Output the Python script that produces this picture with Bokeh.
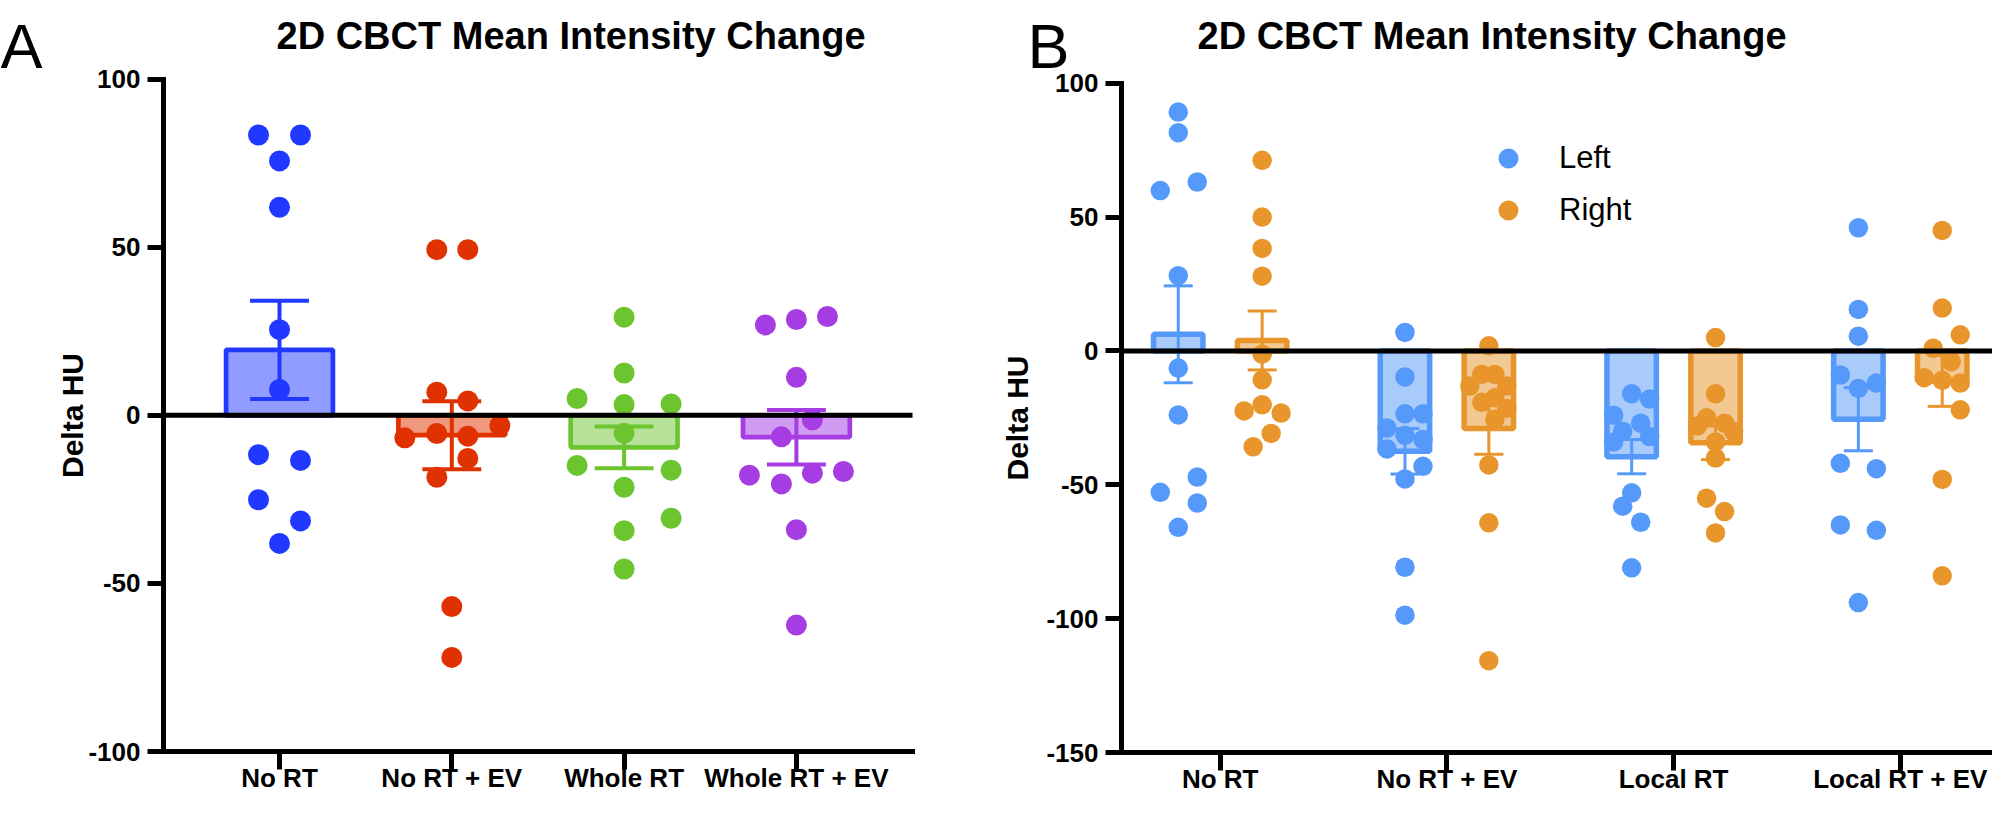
from bokeh.plotting import figure
from bokeh.models import Range1d, Label, Legend, LegendItem, FixedTicker
from bokeh.layouts import row
from bokeh.embed import file_html
from bokeh.resources import INLINE

FONT = "Liberation Sans"

# ---------------- data: panel A ----------------
a_groups = ["No RT", "No RT + EV", "Whole RT", "Whole RT + EV"]
a_no_rt = [83.4, 83.4, 75.7, 61.9, 25.5, 7.7, -11.7, -13.4, -25.1, -31.4, -38.1]
a_no_rt_ev = [49.3, 49.3, 6.9, 4.3, -3.0, -6.7, -5.4, -6.2, -12.8, -18.4, -56.9, -72.0]
a_whole_rt = [29.2, 12.6, 5.0, 3.2, 3.4, -5.3, -14.9, -16.3, -21.4, -30.6, -34.3, -45.7]
a_whole_rt_ev = [26.9, 28.5, 29.4, 11.3, -1.3, -6.4, -17.8, -20.4, -17.2, -16.7, -34.0, -62.4]
a_mean = [19.5, -5.9, -9.5, -6.5]
a_sem = [14.6, 10.1, 6.2, 8.1]
a_ylim = (-100, 100)
a_yticks = [-100, -50, 0, 50, 100]

# ---------------- data: panel B ----------------
b_groups = ["No RT", "No RT + EV", "Local RT", "Local RT + EV"]
b_left_no_rt = [89.2, 81.5, 59.9, 63.1, 28.1, -6.4, -23.9, -47.1, -52.8, -56.8, -65.9]
b_left_no_rt_ev = [6.9, -9.7, -23.5, -23.5, -28.8, -31.5, -33.1, -36.6, -43.1, -47.8, -80.8, -98.7]
b_left_local_rt = [-16, -18, -24, -27, -30, -32, -34, -53, -58, -64, -81]
b_left_local_rt_ev = [46, 15.5, 5.5, -9, -12, -14, -42, -44, -65, -67, -94]
b_right_no_rt = [71.2, 50.0, 38.3, 27.9, -1.2, -10.8, -20.1, -22.4, -23.2, -30.8, -35.8]
b_right_no_rt_ev = [1.9, -8.8, -8.8, -13.1, -13.1, -17.5, -19.2, -21.5, -25.5, -42.6, -64.2, -115.7]
b_right_local_rt = [5, -16, -25, -27, -28, -30, -34, -40, -55, -60, -68]
b_right_local_rt_ev = [45, 16, 6, 1, -4, -10, -11, -12, -22, -48, -84]
b_left_mean = [6.2, -37.5, -39.5, -25.5]
b_left_sem = [18.1, 8.5, 6.4, 11.8]
b_right_mean = [3.9, -29.0, -34.3, -11.2]
b_right_sem = [11.0, 9.6, 6.3, 9.5]
b_series = ["Left", "Right"]
b_ylim = (-150, 100)
b_yticks = [-150, -100, -50, 0, 50, 100]

TITLE = "2D CBCT Mean Intensity Change"
PANEL_LETTERS = ["A", "B"]

# ---------------- layout (scatter spread, in px) ----------------
a_jit = [
    [-21, 21, 0, 0, 0, 0, -21, 21, -21, 21, 0],
    [-15, 16, -15, 16, 48, -47, -15, 16, 16, -15, 0, 0],
    [0, 0, -47, 0, 47, 0, -47, 47, 0, 47, 0, 0],
    [-31, 0, 31, 0, 16, -15, -47, -15, 16, 47, 0, 0],
]
b_left_jit = [
    [0, 0, -18, 19, 0, 0, 0, 19, -18, 19, 0],
    [0, 0, 0, 18, -18, 0, 18, -18, 18, 0, 0, 0],
    [0, 18, -18, 9, -9, 18, -18, 0, -9, 9, 0],
    [0, 0, 0, -18, 18, 0, -18, 18, -18, 18, 0],
]
b_right_jit = [
    [0, 0, 0, 0, 0, 0, 0, -18, 19, 9, -9],
    [0, -7, 6, -19, 18, 6, -7, 18, 6, 0, 0, 0],
    [0, 0, -9, 9, -18, 18, 0, 0, -9, 9, 0],
    [0, 0, 18, -9, 9, -18, 0, 18, 18, 0, 0],
]

A_COLORS = ["#2038FF", "#E03200", "#6CC52E", "#A53DE2"]
A_FILLS = ["#909CFF", "#F0987E", "#B6E399", "#D09CF1"]
B_COLORS = ["#5599FA", "#E8952B"]
B_FILLS = ["#A9CBFC", "#F2C992"]

H = 799  # canvas height


def make_panel(width, cat0_px, cat_dx, axis_px, axis_end_px, ytop_px, ybot_px, ylim,
               yticks, xlabels, ylab_standoff, letter, letter_x, title_x):
    """Frame fills the whole canvas; axes are pinned with fixed_location."""
    x0 = (0 - cat0_px) / cat_dx
    x1 = (width - cat0_px) / cat_dx
    ppu = (ybot_px - ytop_px) / (ylim[1] - ylim[0])
    y1 = ylim[1] + ytop_px / ppu
    y0 = ylim[0] - (H - ybot_px) / ppu
    p = figure(width=width, height=H, x_range=Range1d(x0, x1), y_range=Range1d(y0, y1),
               output_backend="svg", toolbar_location=None,
               min_border_left=0, min_border_right=0, min_border_top=0, min_border_bottom=0)
    p.xgrid.visible = False
    p.ygrid.visible = False
    p.outline_line_color = None
    p.background_fill_color = "white"
    p.border_fill_color = "white"
    ax_x = (axis_px - cat0_px) / cat_dx
    ax_x_end = (axis_end_px - cat0_px) / cat_dx
    for ax in (p.xaxis[0], p.yaxis[0]):
        ax.axis_line_width = 5
        ax.axis_line_color = "black"
        ax.axis_line_cap = "square"
        ax.major_tick_line_width = 5
        ax.major_tick_line_color = "black"
        ax.major_tick_in = 0
        ax.minor_tick_line_color = None
        ax.major_label_text_font = FONT
        ax.major_label_text_font_style = "bold"
        ax.major_label_text_font_size = "26px"
        ax.major_label_text_color = "black"
    p.xaxis.fixed_location = ylim[0]
    p.xaxis.bounds = (ax_x, ax_x_end)
    p.yaxis.fixed_location = ax_x
    p.yaxis.bounds = ylim
    p.xaxis.major_tick_out = 18
    p.xaxis.major_label_standoff = -7
    p.yaxis.major_tick_out = 16
    p.yaxis.major_label_standoff = 7
    p.xaxis.ticker = FixedTicker(ticks=list(range(len(xlabels))))
    p.xaxis.major_label_overrides = {i: s for i, s in enumerate(xlabels)}
    p.yaxis.ticker = FixedTicker(ticks=yticks)
    p.yaxis.major_label_overrides = {t: str(t) for t in yticks}
    p.yaxis.axis_label = "Delta HU"
    p.yaxis.axis_label_text_font = FONT
    p.yaxis.axis_label_text_font_style = "bold"
    p.yaxis.axis_label_text_font_size = "30px"
    p.yaxis.axis_label_text_color = "black"
    p.yaxis.axis_label_standoff = ylab_standoff
    p.add_layout(Label(x=letter_x, y=H - 45, x_units="screen", y_units="screen", text=letter,
                       text_font=FONT, text_font_size="63px", text_color="black",
                       text_baseline="alphabetic"))
    p.add_layout(Label(x=title_x, y=H - 35, x_units="screen", y_units="screen", text=TITLE,
                       text_font=FONT, text_font_size="38px", text_font_style="bold",
                       text_color="black", text_baseline="alphabetic"))
    return p, (ax_x, ax_x_end), 1.0 / cat_dx


def error_bars(p, xs, means, sems, cap, color, lw):
    lo = [m - s for m, s in zip(means, sems)]
    hi = [m + s for m, s in zip(means, sems)]
    p.segment(x0=xs, y0=lo, x1=xs, y1=hi, line_color=color, line_width=lw)
    p.segment(x0=[x - cap / 2 for x in xs], y0=hi, x1=[x + cap / 2 for x in xs], y1=hi,
              line_color=color, line_width=lw)
    p.segment(x0=[x - cap / 2 for x in xs], y0=lo, x1=[x + cap / 2 for x in xs], y1=lo,
              line_color=color, line_width=lw)


# ================= Panel A =================
pa, a_xb, a_upp = make_panel(980, 279, 172.3, 163, 912, 78.7, 751, a_ylim, a_yticks, a_groups,
                             -4, PANEL_LETTERS[0], 0, 276)
a_x = list(range(len(a_groups)))
pa.vbar(x=a_x, top=a_mean, bottom=0, width=0.62, fill_color=A_FILLS, line_color=A_COLORS, line_width=4.7)
for i in a_x:
    error_bars(pa, [i], [a_mean[i]], [a_sem[i]], 0.342, A_COLORS[i], 4)
a_data = [a_no_rt, a_no_rt_ev, a_whole_rt, a_whole_rt_ev]
for i, vals in enumerate(a_data):
    xs = [i + j * a_upp for j in a_jit[i]]
    pa.scatter(x=xs, y=vals, size=21, fill_color=A_COLORS[i], line_color=None)
pa.line(x=list(a_xb), y=[0, 0], line_color="black", line_width=5)

# ================= Panel B =================
pb, b_xb, b_upp = make_panel(1012, 239.7, 226.7, 141, 1012, 82.7, 752, b_ylim, b_yticks, b_groups,
                             9, PANEL_LETTERS[1], 47, 217)
b_off = 0.185
b_x = list(range(len(b_groups)))
b_left_data = [b_left_no_rt, b_left_no_rt_ev, b_left_local_rt, b_left_local_rt_ev]
b_right_data = [b_right_no_rt, b_right_no_rt_ev, b_right_local_rt, b_right_local_rt_ev]
renderers = []
for k, (means, sems, data, jit) in enumerate([
        (b_left_mean, b_left_sem, b_left_data, b_left_jit),
        (b_right_mean, b_right_sem, b_right_data, b_right_jit)]):
    sgn = -1 if k == 0 else 1
    xs = [i + sgn * b_off for i in b_x]
    pb.vbar(x=xs, top=means, bottom=0, width=0.218, fill_color=B_FILLS[k],
            line_color=B_COLORS[k], line_width=5.5)
    error_bars(pb, xs, means, sems, 0.128, B_COLORS[k], 3)
    px, py = [], []
    for i, vals in enumerate(data):
        px += [xs[i] + j * b_upp for j in jit[i]]
        py += vals
    r = pb.scatter(x=px, y=py, size=19.5, fill_color=B_COLORS[k], line_color=None)
    renderers.append(r)
pb.line(x=list(b_xb), y=[0, 0], line_color="black", line_width=5)

legend = Legend(items=[LegendItem(label=b_series[k], renderers=[renderers[k]]) for k in range(2)],
                location=(503, 564), orientation="vertical", glyph_width=50, glyph_height=50,
                spacing=2, padding=0, margin=0, border_line_color=None,
                background_fill_alpha=0, label_text_font=FONT, label_text_font_size="31px",
                label_text_color="black", label_standoff=26)
pb.add_layout(legend)

layout = row(pa, pb)
open("out.html", "w").write(file_html(layout, INLINE))
